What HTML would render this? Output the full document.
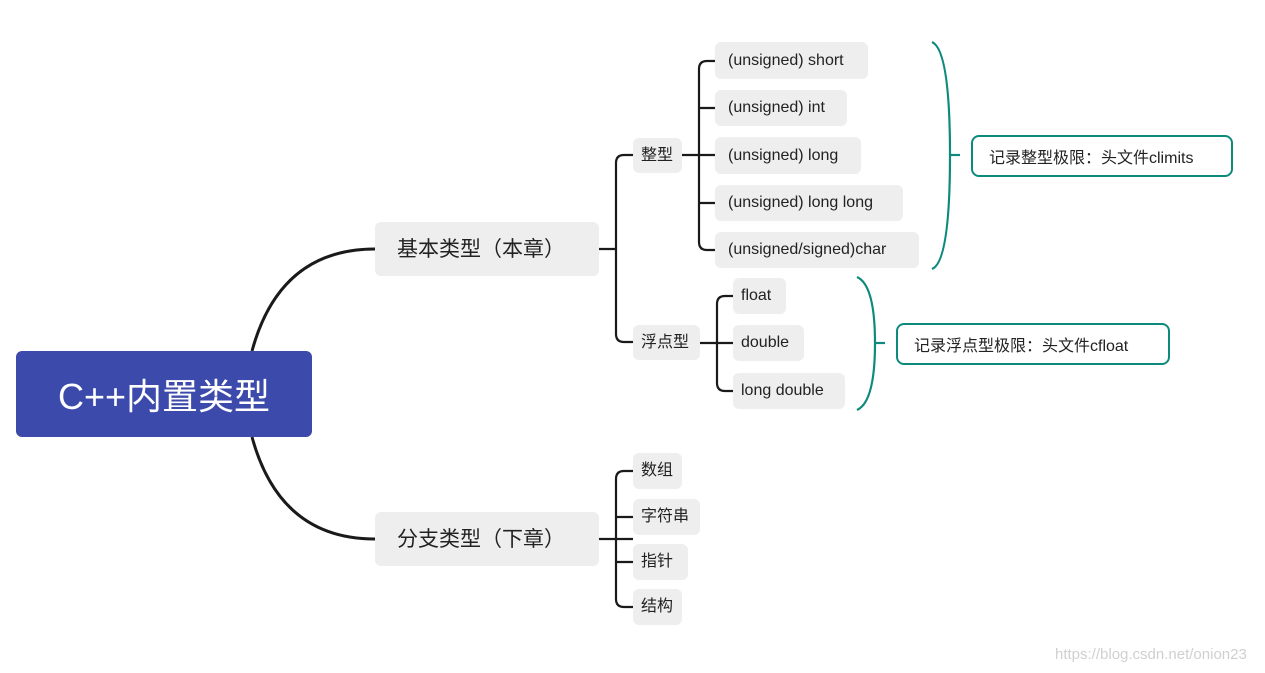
<!DOCTYPE html>
<html><head><meta charset="utf-8"><style>
body{margin:0;width:1265px;height:673px;background:#fff;position:relative;overflow:hidden;font-family:"Liberation Sans","Noto Sans CJK SC",sans-serif;color:#222}
.b{position:absolute;background:#eeeeee;border-radius:6px;font-size:16px;line-height:1;display:flex;align-items:center;padding-left:13px;box-sizing:border-box}
.big{font-size:21px;padding-left:22px}
.n{position:absolute;border:2px solid #0e8a7c;border-radius:8px;box-sizing:border-box;font-size:16px;display:flex;align-items:center;padding-left:16px;background:#fff}
svg{position:absolute;left:0;top:0}
</style></head><body>
<svg width="1265" height="673" fill="none">
<g stroke="#1a1a1a" stroke-width="3">
<path d="M252 351 C270 285 310 249 375 249"/>
<path d="M252 437 C270 503 310 539 375 539"/>
</g>
<g stroke="#1a1a1a" stroke-width="2.2">
<path d="M599 249 H616"/>
<path d="M633 155 H624 Q616 155 616 163 V334 Q616 342 624 342 H633"/>
<path d="M682 155 H715"/>
<path d="M715 61 H707 Q699 61 699 69 V242 Q699 250 707 250 H715"/>
<path d="M699 108 Q699 108 707 108 H715 M699 203 H715"/>
<path d="M700 343 H733"/>
<path d="M733 296 H725 Q717 296 717 304 V383 Q717 391 725 391 H733"/>
<path d="M599 539 H633"/>
<path d="M633 471 H624 Q616 471 616 479 V599 Q616 607 624 607 H633"/>
<path d="M616 517 H633 M616 562 H633"/>
</g>
<g stroke="#0e8a7c" stroke-width="2.2">
<path d="M932 42 Q950 50 950 155 Q950 262 932 269"/>
<path d="M950 155 H960"/>
<path d="M857 277 Q875 285 875 343 Q875 402 857 410"/>
<path d="M875 343 H885"/>
</g>
</svg>
<div style="position:absolute;left:16px;top:351px;width:296px;height:86px;background:#3b4aab;border-radius:6px;color:#fff;font-size:36px;display:flex;align-items:center;justify-content:center">C++内置类型</div>
<div class="b big" style="left:375px;top:222px;width:224px;height:54px">基本类型（本章）</div>
<div class="b big" style="left:375px;top:512px;width:224px;height:54px">分支类型（下章）</div>
<div class="b" style="left:633px;top:138px;width:49px;height:35px;padding-left:8px">整型</div>
<div class="b" style="left:633px;top:325px;width:67px;height:35px;padding-left:8px">浮点型</div>
<div class="b" style="left:715px;top:42px;width:153px;height:37px">(unsigned) short</div>
<div class="b" style="left:715px;top:90px;width:132px;height:36px">(unsigned) int</div>
<div class="b" style="left:715px;top:137px;width:146px;height:37px">(unsigned) long</div>
<div class="b" style="left:715px;top:185px;width:188px;height:36px">(unsigned) long long</div>
<div class="b" style="left:715px;top:232px;width:204px;height:36px">(unsigned/signed)char</div>
<div class="b" style="left:733px;top:278px;width:53px;height:36px;padding-left:8px">float</div>
<div class="b" style="left:733px;top:325px;width:71px;height:36px;padding-left:8px">double</div>
<div class="b" style="left:733px;top:373px;width:112px;height:36px;padding-left:8px">long double</div>
<div class="b" style="left:633px;top:453px;width:49px;height:36px;padding-left:8px">数组</div>
<div class="b" style="left:633px;top:499px;width:67px;height:36px;padding-left:8px">字符串</div>
<div class="b" style="left:633px;top:544px;width:55px;height:36px;padding-left:8px">指针</div>
<div class="b" style="left:633px;top:589px;width:49px;height:36px;padding-left:8px">结构</div>
<div class="n" style="left:971px;top:135px;width:262px;height:42px">记录整型极限：头文件climits</div>
<div class="n" style="left:896px;top:323px;width:274px;height:42px">记录浮点型极限：头文件cfloat</div>
<div style="position:absolute;left:1055px;top:646px;font-size:15px;color:#d0d0d0">https://blog.csdn.net/onion23</div>
</body></html>
